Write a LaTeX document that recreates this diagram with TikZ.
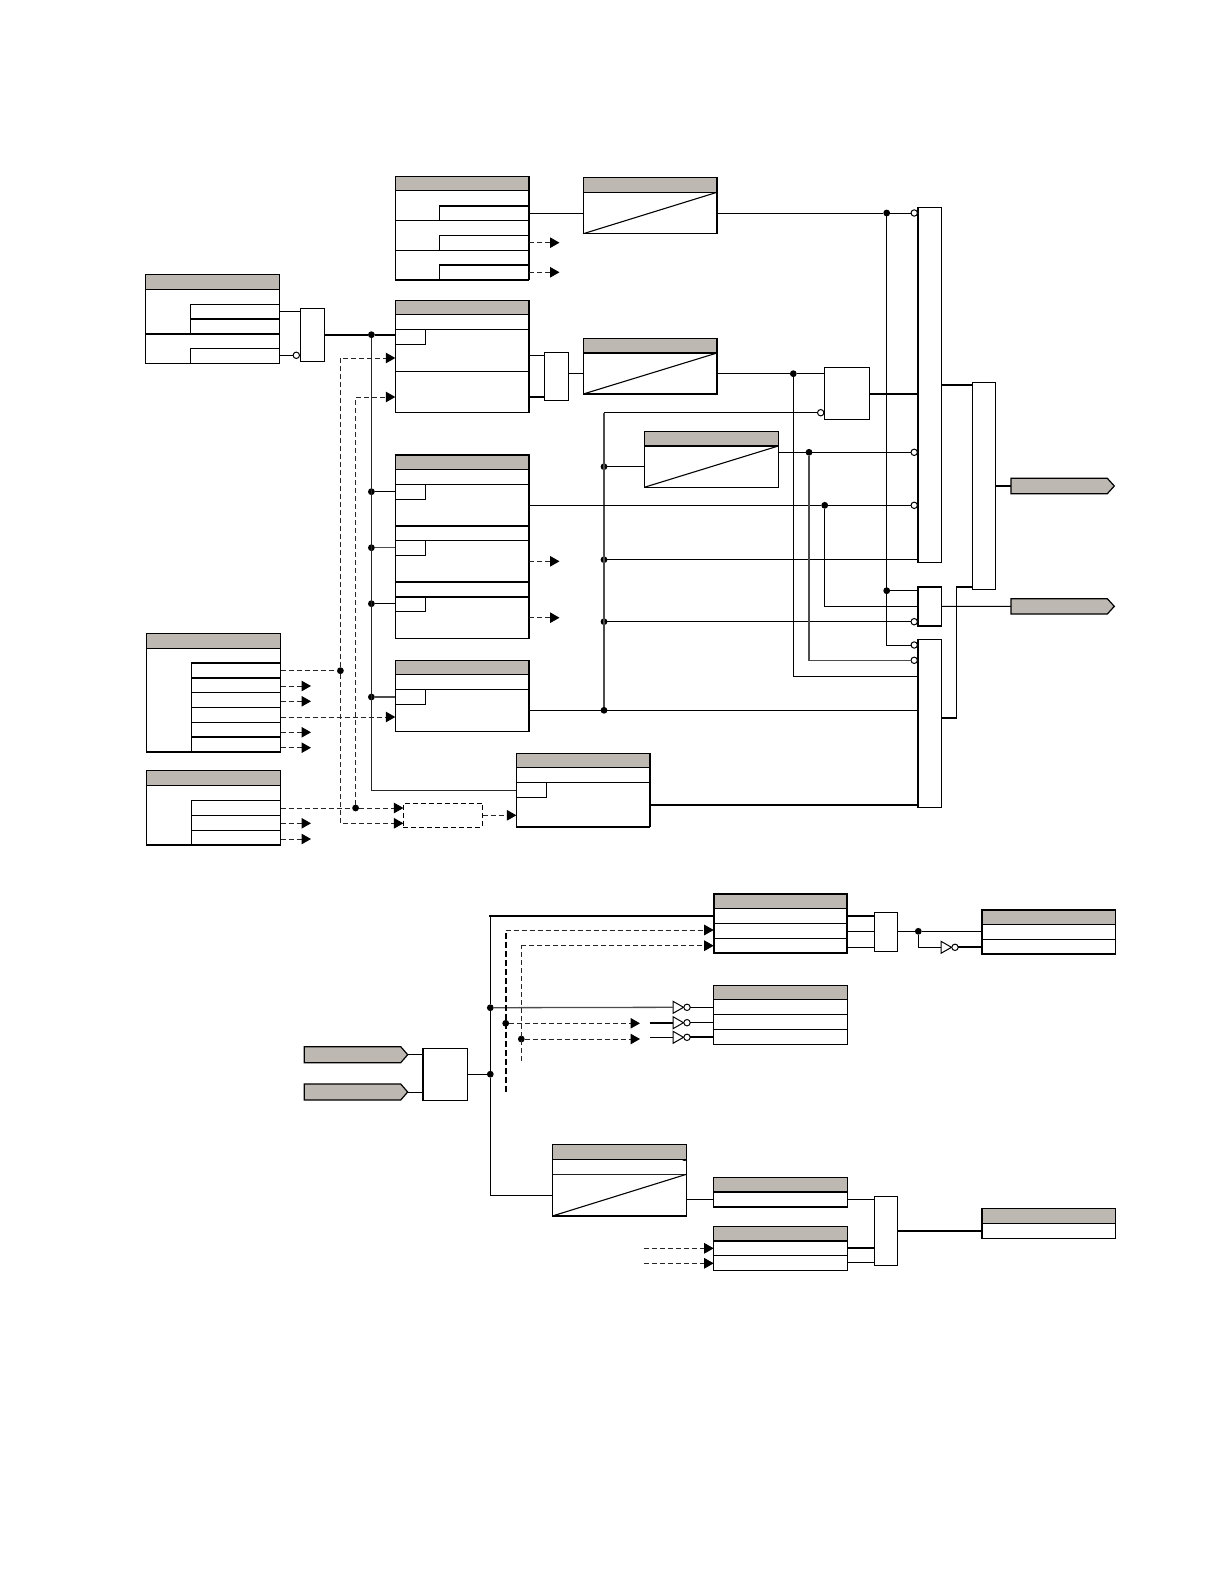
\documentclass[tikz,border=0pt]{standalone}
\usetikzlibrary{arrows.meta}
\definecolor{hdrgrey}{HTML}{BDB8B1}
\tikzset{
  wire/.style={line width=1pt,line cap=butt},
  thickwire/.style={line width=1.8pt},
  midwire/.style={line width=1.3pt,draw=black!70},
  dashwire/.style={line width=1pt,dash pattern=on 5pt off 3pt,draw=black!85},
  dashthick/.style={line width=1.8pt,dash pattern=on 6pt off 3pt},
  arr/.style={dashwire,-{Triangle[length=9.5pt,width=10.5pt,color=black]}},
  shapebox/.style={draw,fill=white,line width=1pt,inner sep=0pt,outer sep=0pt,anchor=north west},
  jdot/.style={circle,fill=black,inner sep=0pt,minimum size=6.8pt,outer sep=0pt},
  bub/.style={circle,draw,fill=white,line width=1pt,inner sep=0pt,minimum size=6.4pt,outer sep=0pt},
  rowline/.style={line width=1pt},
  rowthick/.style={line width=1.7pt},
  tagshape/.style={draw,fill=hdrgrey,line width=1.2pt}
}
% #1 name, #2 x1, #3 y1, #4 x2, #5 y2
\newcommand\plainblock[5]{\node[shapebox,minimum width={(#4-#2)*1pt},minimum height={(#5-#3)*1pt}] (#1) at (#2,#3) {};}
% #1 name, #2 x1, #3 y1, #4 x2, #5 y2, #6 header bottom
\newcommand\tbl[6]{\plainblock{#1}{#2}{#3}{#4}{#5}%
  \draw[fill=hdrgrey,line width=1pt] (#2,#3) rectangle (#4,#6);
  \draw[line width=1.5pt] (#2,#6) -- (#4,#6);
  \draw[line width=1.4pt] (#2,#3) rectangle (#4,#5);}
\newcommand\timerbox[6]{\tbl{#1}{#2}{#3}{#4}{#5}{#6}\draw[line width=1.1pt] (#2,#5) -- (#4,#6);}
% inverter: #1 name, #2 x, #3 y
\newcommand\inverter[3]{\coordinate (#1in) at (#2,#3);
  \draw[line width=1pt] (#2,#3-6) -- (#2+10.5,#3) -- (#2,#3+6) -- cycle;
  \node[bub] (#1) at (#2+14,#3) {};}
% tag: #1 name, #2 x1, #3 y1, #4 x2, #5 y2
\newcommand\tagbox[5]{\draw[tagshape] (#2,#3) -- (#4-7,#3) -- (#4,#3/2+#5/2) -- (#4-7,#5) -- (#2,#5) -- cycle;
  \coordinate (#1w) at (#2,#3/2+#5/2); \coordinate (#1e) at (#4,#3/2+#5/2);}
\begin{document}
\begin{tikzpicture}[x=1pt,y=-1pt]
\useasboundingbox (0,0) rectangle (1224,1584);
% ---------- tables ----------
\tbl{tTop}{395.3}{176.7}{529}{279.7}{190.7}
\draw[rowthick] (439.3,205.7) -- (529,205.7);
\draw[rowline] (439.3,205.7) -- (439.3,220.3) (395.3,220.3) -- (529,220.3);
\draw[rowline] (439.3,250.3) -- (439.3,235.3) -- (529,235.3) (395.3,250.3) -- (529,250.3);
\draw[rowthick] (439.3,265) -- (529,265);
\draw[rowline] (439.3,265) -- (439.3,279.7);
\draw[rowthick] (395.3,279.7) -- (529,279.7);

\tbl{tA}{145.7}{274.7}{279.3}{363.3}{289.3}
\draw[rowline] (190.3,333.7) -- (190.3,304.3) -- (279.3,304.3);
\draw[rowthick] (190.3,319) -- (279.3,319) (145.7,333.7) -- (279.3,333.7);
\draw[rowline] (190.3,363.3) -- (190.3,348.7) -- (279.3,348.7);

\tbl{tB}{395.3}{300.7}{529}{412.3}{314.7}
\draw[rowline] (395.3,329.7) -- (529,329.7) (425.3,329.7) -- (425.3,344.3) -- (395.3,344.3);
\draw[rowline] (395.3,371.3) -- (529,371.3);

\tbl{tC}{395.3}{455}{529}{638.3}{469.3}
\draw[rowline] (395.3,484.3) -- (529,484.3) (425.3,484.3) -- (425.3,499.3) -- (395.3,499.3);
\draw[rowthick] (395.3,525.7) -- (529,525.7);
\draw[rowline] (395.3,540.3) -- (529,540.3) (425.3,540.3) -- (425.3,555.3) -- (395.3,555.3);
\draw[rowthick] (395.3,581.7) -- (529,581.7) (395.3,596.7) -- (529,596.7);
\draw[rowline] (425.3,596.7) -- (425.3,611.3) -- (395.3,611.3);

\tbl{tD}{395.3}{660.7}{529}{731.3}{674.7}
\draw[rowline] (395.3,689.3) -- (529,689.3) (425.3,689.3) -- (425.3,704.3) -- (395.3,704.3);

\tbl{tE}{146.2}{633.7}{280.5}{751.7}{648.3}
\draw[rowline] (191.3,662.7) -- (191.3,751.7);
\draw[rowthick] (191.3,662.7) -- (280.5,662.7) (191.3,677.7) -- (280.5,677.7) (191.3,737) -- (280.5,737) (146.2,751.7) -- (280.5,751.7);
\draw[rowline] (191.3,692.3) -- (280.5,692.3) (191.3,707.3) -- (280.5,707.3) (191.3,722.3) -- (280.5,722.3);

\tbl{tF}{146.2}{770.7}{280.5}{845}{785.3}
\draw[rowline] (191.3,845) -- (191.3,800.3) -- (280.5,800.3) (191.3,815.3) -- (280.5,815.3) (191.3,830.3) -- (280.5,830.3);
\draw[rowthick] (146.2,845) -- (280.5,845);

\tbl{tG}{516.4}{753.7}{650}{826.7}{767.7}
\draw[rowline] (516.4,782.3) -- (650,782.3) (546.3,782.3) -- (546.3,797.3) -- (516.4,797.3);
\draw[rowthick] (516.4,826.7) -- (650,826.7) (650,753.7) -- (650,826.7);

\tbl{tH}{713.7}{894}{847.3}{952.7}{908.3}
\draw[rowline] (713.7,923.3) -- (847.3,923.3) (713.7,938.3) -- (847.3,938.3);
\draw[rowthick] (713.7,894) rectangle (847.3,952.7);

\tbl{tI}{713.7}{985.7}{847.3}{1044.3}{999.7}
\draw[rowline] (713.7,1014.3) -- (847.3,1014.3) (713.7,1029.3) -- (847.3,1029.3);

\tbl{tJ}{982}{910}{1115.7}{954}{924.7}
\draw[rowline] (982,939.3) -- (1115.7,939.3);

\tbl{tL}{713.7}{1177.7}{847.3}{1207}{1192}
\draw[rowthick] (713.7,1207) -- (847.3,1207);
\tbl{tM}{713.7}{1226.7}{847.3}{1270.3}{1241}
\draw[rowline] (713.7,1255.7) -- (847.3,1255.7);
\tbl{tN}{982}{1208.7}{1115.7}{1238.3}{1223.3}

% ---------- timers ----------
\timerbox{tm1}{583.3}{177.7}{717}{233.7}{192.3}
\timerbox{tm2}{583.3}{338.3}{717}{394}{353}
\timerbox{tm3}{644.3}{431.3}{778.3}{487.3}{446}
\timerbox{tK}{552.4}{1144.7}{686.4}{1216}{1159.7}
\draw[line width=1.3pt] (552.4,1174.3) -- (686.4,1174.3);
\fill[white] (553,1160.6) rectangle (685.8,1173.6);
\fill[white] (553,1174.9) -- (685.8,1174.9) -- (553,1215.4) -- cycle;
\draw[line width=1.1pt] (552.4,1216) -- (686.4,1174.3);

% ---------- gates ----------
\plainblock{g1}{300.3}{308.3}{324.7}{361.3}
\plainblock{g2}{544.3}{352.3}{568.7}{400}
\plainblock{gAnd}{824.3}{367.7}{869.3}{419.3}
\plainblock{gBig}{917.7}{207.3}{941.3}{562.3}
\plainblock{gSmall}{917.7}{586.7}{941.3}{626}
\plainblock{gLow}{917.7}{639.3}{941.3}{807.3}
\plainblock{gOut}{972.3}{382.3}{995.3}{589.3}
\plainblock{gH}{874.3}{912.3}{897.7}{951}
\plainblock{gIn}{422.7}{1048.3}{467.7}{1100.3}
\plainblock{gM}{874.6}{1196.3}{897.5}{1265.7}
\draw[rowthick] (gBig.north west) -- (gBig.south west);
\draw[rowthick] (gLow.north west) -- (gLow.south west);
\draw[rowthick] (gSmall.north west) -- (gSmall.south west) -- (gSmall.south east);
\draw[rowthick] (gSmall.north west) -- (gSmall.north east);
\draw[rowthick] (gIn.north west) -- (gIn.south west);

\node[shapebox,dash pattern=on 5pt off 3pt,minimum width=79.2pt,minimum height=24pt] (delay) at (403.4,803) {};

% ---------- tags ----------
\tagbox{tagA}{1011}{478.3}{1114.3}{493.7}
\tagbox{tagB}{1011}{598.7}{1114.3}{614}
\tagbox{tagC}{304.3}{1046.7}{407.7}{1062.7}
\tagbox{tagD}{304.3}{1084}{407.7}{1100}

% ---------- junctions and bubbles ----------
\node[jdot] (jMain) at (371.4,334.7) {};
\node[jdot] (jC1) at (371.4,491.7) {};
\node[jdot] (jC2) at (371.4,547.7) {};
\node[jdot] (jC3) at (371.4,603.7) {};
\node[jdot] (jD) at (371.4,697) {};
\node[jdot] (jE) at (340.4,670.7) {};
\node[jdot] (jF) at (355.6,808) {};
\node[jdot] (jTop) at (886.7,213) {};
\node[jdot] (jMid) at (886.7,590.7) {};
\node[jdot] (jTm2) at (793.3,373.7) {};
\node[jdot] (jTm3) at (809,452.3) {};
\node[jdot] (jC) at (824.7,505.3) {};
\node[jdot] (jB1) at (604,466.7) {};
\node[jdot] (jB2) at (604,559.7) {};
\node[jdot] (jB3) at (604,621.7) {};
\node[jdot] (jB4) at (604,710.3) {};
\node[jdot] (jL1) at (490.3,1007.7) {};
\node[jdot] (jL2) at (490.3,1074.2) {};
\node[jdot] (jD1) at (505.7,1023.3) {};
\node[jdot] (jD2) at (521.3,1039) {};
\node[jdot] (jH) at (918.3,931.3) {};

\node[bub] (bA) at (296.3,355.3) {};
\node[bub] (bAnd) at (820.7,412.7) {};
\node[bub] (bB1) at (914.2,213) {};
\node[bub] (bB2) at (914.2,452.3) {};
\node[bub] (bB3) at (914.2,505.3) {};
\node[bub] (bS) at (914.2,621.7) {};
\node[bub] (bL1) at (914.2,645) {};
\node[bub] (bL2) at (914.2,660.3) {};

\inverter{inv1}{673}{1007.3}
\inverter{inv2}{673}{1022.7}
\inverter{inv3}{673}{1037.3}
\inverter{inv4}{941}{947.3}

% ---------- solid connectors, upper part ----------
\draw[wire] (tA.east |- 0,311.3) -- (g1.west |- 0,311.3);
\draw[wire] (tA.east |- bA) -- (bA);
\draw[thickwire] (g1.east |- jMain) -- (jMain) -- (tB.west |- jMain);
\draw[midwire,draw=black!85] (jMain) -- (371.4,790.3) -- (tG.west |- 0,790.3);
\draw[wire] (jC1) -- (tC.west |- jC1);
\draw[midwire] (jC2) -- (tC.west |- jC2);
\draw[wire] (jC3) -- (tC.west |- jC3);
\draw[midwire] (jD) -- (tD.west |- jD);

\draw[wire] (tTop.east |- 0,213) -- (tm1.west |- 0,213);
\draw[wire] (tm1.east |- jTop) -- (jTop) -- (bB1);
\draw[wire] (tB.east |- 0,355.3) -- (g2.west |- 0,355.3);
\draw[thickwire] (tB.east |- 0,396.7) -- (g2.west |- 0,396.7);
\draw[wire] (g2.east |- 0,373.7) -- (tm2.west |- 0,373.7);
\draw[wire] (tm2.east |- jTm2) -- (jTm2) -- (gAnd.west |- jTm2);
\draw[thickwire] (gAnd.east |- 0,393.7) -- (gBig.west |- 0,393.7);
\draw[midwire] (jB4) -- (604,412.7);
\draw[wire] (604,412.7) -- (bAnd);
\draw[wire] (jB1) -- (tm3.west |- jB1);
\draw[wire] (tm3.east |- jTm3) -- (jTm3) -- (bB2);
\draw[wire] (tC.east |- jC) -- (jC) -- (bB3);
\draw[wire] (jB2) -- (gBig.west |- jB2);
\draw[wire] (jB3) -- (bS);
\draw[wire] (tD.east |- jB4) -- (jB4) -- (gLow.west |- jB4);
\draw[thickwire] (tG.east |- 0,804.7) -- (gLow.west |- 0,804.7);
\draw[wire] (jTop) -- (886.7,645) -- (bL1);
\draw[wire] (jMid) -- (gSmall.west |- jMid);
\draw[midwire] (jTm3) -- (809,660.3) -- (bL2);
\draw[wire] (jC) -- (824.7,606.3) -- (gSmall.west |- 0,606.3);
\draw[wire] (jTm2) -- (793.3,676.3) -- (gLow.west |- 0,676.3);
\draw[wire] (gSmall.east |- 0,606.3) -- (tagBw);
\draw[thickwire] (gBig.east |- 0,384.7) -- (gOut.west |- 0,384.7);
\draw[thickwire] (gLow.east |- 0,718) -- (956.8,718);
\draw[wire] (956.3,718) -- (956.3,587);
\draw[wire,line width=1.3pt] (955.8,587) -- (gOut.west |- 0,587);
\draw[thickwire] (gOut.east |- tagAw) -- (tagAw);

% ---------- dashed connectors, upper part ----------
\coordinate (dL) at (340.4,823.3);
\coordinate (dR) at (355.6,397);
\draw[dashwire] (tE.east |- jE) -- (jE);
\draw[arr] (jE) -- (340.4,358) -- (tB.west |- 0,358);
\draw[arr] (jE) -- (dL) -- (delay.west |- dL);
\draw[arr] (jF) -- (dR) -- (tB.west |- dR);
\draw[dashwire] (tF.east |- jF) -- (jF);
\draw[arr] (jF) -- (delay.west |- jF);
\draw[arr] (delay.east |- 0,815.3) -- (tG.west |- 0,815.3);
\draw[arr] (tE.east |- 0,717) -- (tD.west |- 0,717);
\foreach \yy in {686,701.3,732.3,747.7,823.3,839}{
  \draw[arr] (280.5,\yy) -- (311,\yy);}
\foreach \yy in {242.7,272.3,561.3,617.7}{
  \draw[arr] (529,\yy) -- (559.5,\yy);}

% ---------- lower part ----------
\draw[wire] (tagCe) -- (gIn.west |- tagCe);
\draw[wire] (tagDe) -- (gIn.west |- tagDe);
\draw[wire] (gIn.east |- jL2) -- (jL2);
\draw[wire] (jL1) -- (490.3,915.7);
\draw[wire] (jL1) -- (jL2) -- (490.3,1195.3) -- (tK.west |- 0,1195.3);
\draw[thickwire] (489.4,915.7) -- (tH.west |- 0,915.7);
\draw[midwire] (jL1) -- (inv1in);
\draw[wire] (inv1) -- (tI.west |- inv1);
\draw[wire] (inv2) -- (tI.west |- inv2);
\draw[thickwire] (inv3) -- (tI.west |- inv3);
\coordinate (s2) at (650,1022.7);
\coordinate (s3) at (650,1037.3);
\draw[thickwire] (s2) -- (inv2in);
\draw[wire] (s3) -- (inv3in);
\draw[dashthick] (505.7,1091.7) -- (505.7,930);
\draw[arr] (505.7,930) -- (tH.west |- 0,930);
\draw[dashwire] (521.3,1061) -- (521.3,945.7);
\draw[arr] (521.3,945.7) -- (tH.west |- 0,945.7);
\draw[arr] (jD1) -- (640,1023.3);
\draw[arr] (jD2) -- (640,1039);

\draw[thickwire] (tH.east |- 0,915.7) -- (gH.west |- 0,915.7);
\draw[wire] (tH.east |- 0,931.3) -- (gH.west |- 0,931.3);
\draw[wire] (tH.east |- 0,947.3) -- (gH.west |- 0,947.3);
\draw[wire] (gH.east |- jH) -- (jH) -- (tJ.west |- jH);
\draw[wire] (jH) -- (918.3,947.3) -- (inv4in);
\draw[thickwire] (inv4) -- (tJ.west |- inv4);

\draw[wire] (tK.east |- 0,1199.3) -- (tL.west |- 0,1199.3);
\draw[wire] (tL.east |- 0,1199.3) -- (gM.west |- 0,1199.3);
\draw[thickwire] (tM.east |- 0,1247.7) -- (gM.west |- 0,1247.7);
\draw[wire] (tM.east |- 0,1262.3) -- (gM.west |- 0,1262.3);
\draw[thickwire] (gM.east |- 0,1230.7) -- (tN.west |- 0,1230.7);
\coordinate (m1) at (643.5,1248.3);
\coordinate (m2) at (643.5,1263.3);
\draw[arr] (m1) -- (tM.west |- m1);
\draw[arr] (m2) -- (tM.west |- m2);
\end{tikzpicture}
\end{document}
